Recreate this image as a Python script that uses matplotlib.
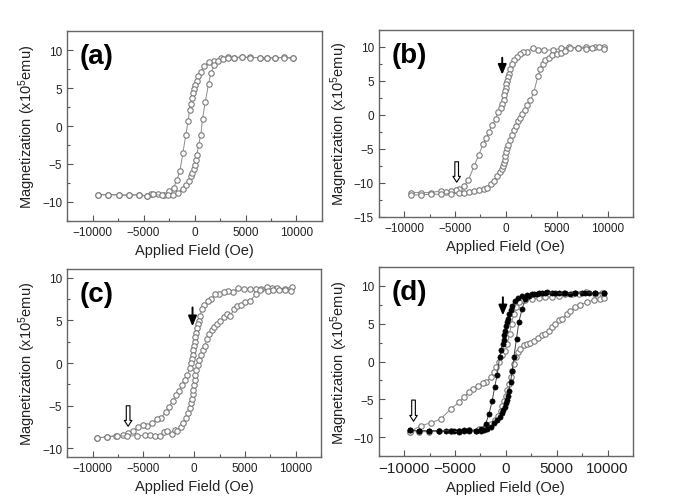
import matplotlib
matplotlib.use('Agg')
import matplotlib.pyplot as plt
from matplotlib.ticker import MultipleLocator

plt.rcParams['font.family'] = ['Liberation Sans', 'DejaVu Sans']
plt.rcParams['mathtext.fontset'] = 'custom'
plt.rcParams['mathtext.rm'] = 'Liberation Sans'
plt.rcParams['mathtext.it'] = 'Liberation Sans'

# ---- panel (a) ----
a_dn_h = [9673, 8791, 7909, 7157, 6405, 5458, 4641, 3889, 3235, 2582, 1928, 1438, 948, 621, 359, 196, 65,
          -33, -131, -261, -392, -490, -621, -850, -1144, -1438, -1732, -2059, -2484, -2974, -3627,
          -4281, -4706, -5490, -6471, -7451, -8464, -9444]
a_dn_m = [8.97, 9.05, 8.97, 8.97, 9.01, 9.05, 9.10, 9.01, 9.05, 8.97, 8.62, 8.44, 7.87, 7.12, 6.55, 5.89, 5.45,
          4.92, 4.35, 3.69, 2.90, 2.15, 0.70, -1.14, -3.56, -5.98, -7.08, -8.18, -8.62, -9.05, -8.97,
          -8.97, -9.27, -9.05, -9.14, -9.05, -9.05, -9.05]
a_up_h = [-9444, -8464, -7451, -6471, -5490, -4706, -4118, -3203, -2647, -2157, -1667, -1176, -817, -556,
          -359, -229, -98, 0, 98, 229, 392, 621, 784, 1046, 1373, 1601, 1928, 2255, 2745, 3235, 3889,
          4641, 5458, 6405, 7157, 7909, 8791, 9673]
a_up_m = [-9.05, -9.05, -9.10, -9.10, -9.05, -9.20, -9.00, -9.14, -9.05, -9.05, -8.84, -8.26, -7.74, -7.21,
          -6.64, -6.20, -5.63, -5.10, -4.44, -3.78, -2.55, -1.14, 0.97, 3.12, 5.54, 6.95, 8.00, 8.62, 8.88,
          8.97, 8.97, 9.05, 9.00, 9.01, 8.97, 9.00, 9.00, 8.90]

# ---- panel (b) ----
b_dn_h = [9608, 8791, 7876, 7091, 6242, 5425, 4608, 3791, 3137, 2647, 2092, 1667, 1438, 1046, 784, 556, 392,
          294, 196, 131, 33, -33, -98, -163, -229, -359, -523, -784, -1013, -1340, -1667, -1928, -2255,
          -2647, -3137, -3693, -4118, -4608, -4935, -5425, -5915, -6405, -7386, -8366, -9346]
b_dn_m = [9.98, 10.02, 10.02, 9.88, 9.98, 9.78, 9.54, 9.54, 9.54, 9.88, 9.30, 9.30, 8.91, 8.52, 8.04, 7.46,
          6.73, 6.00, 5.52, 5.04, 4.55, 3.97, 3.44, 2.86, 2.13, 1.65, 1.07, 0.44, -0.68, -1.50, -2.47, -3.44,
          -4.31, -5.86, -7.55, -9.59, -10.46, -10.85, -11.04, -11.19, -11.28, -11.19, -11.43, -11.43, -11.43]
b_up_h = [-9346, -8366, -7386, -6405, -5425, -4608, -4118, -3627, -3137, -2647, -2157, -1830, -1503, -1176,
          -850, -621, -425, -294, -196, -131, -65, 0, 98, 229, 392, 621, 784, 948, 1209, 1438, 1601, 1863,
          2092, 2418, 2745, 3170, 3399, 3660, 3889, 4216, 4543, 5033, 5425, 5850, 6340, 7091, 7876, 8464,
          9118, 9608]
b_up_m = [-11.77, -11.77, -11.67, -11.67, -11.57, -11.53, -11.43, -11.33, -11.19, -11.04, -10.94, -10.80,
          -10.22, -9.73, -9.01, -8.43, -7.94, -7.46, -7.07, -6.68, -6.10, -5.52, -4.94, -4.41, -3.68, -2.95,
          -2.23, -1.65, -0.92, -0.39, 0.10, 0.68, 1.40, 2.13, 3.34, 5.76, 6.73, 7.46, 8.04, 8.43, 8.81, 9.01,
          9.15, 9.39, 9.78, 9.88, 9.73, 9.88, 9.98, 9.64]

# ---- panel (c) ----
c_dn_h = [9636, 8910, 8184, 7656, 7161, 6600, 6105, 5445, 4884, 4290, 3795, 3300, 2904, 2475, 2046, 1650,
          1320, 990, 759, 561, 429, 330, 231, 165, 99, 33, -33, -99, -165, -231, -330, -462, -660, -924,
          -1221, -1485, -1815, -2112, -2475, -2805, -3300, -3696, -4125, -4620, -5016, -5544, -6006, -6501,
          -6996, -7656, -8580, -9570]
c_dn_m = [8.92, 8.69, 8.80, 8.73, 8.88, 8.69, 8.69, 8.69, 8.61, 8.80, 8.30, 8.42, 8.30, 8.11, 8.03, 7.45,
          7.26, 6.76, 6.29, 5.52, 4.94, 4.56, 4.05, 3.51, 3.01, 2.51, 1.97, 1.47, 0.97, 0.50, 0.00, -0.58,
          -1.35, -2.01, -2.59, -3.28, -3.75, -4.44, -5.10, -5.75, -6.45, -6.56, -7.03, -7.34, -7.22, -7.53,
          -7.99, -8.19, -8.46, -8.49, -8.65, -8.76]
c_up_h = [-9570, -8580, -7590, -6600, -5610, -4884, -4356, -3894, -3399, -2970, -2640, -2211, -1914, -1650,
          -1320, -1089, -825, -594, -429, -330, -231, -165, -99, -33, 33, 99, 198, 330, 495, 660, 825, 1056,
          1254, 1485, 1716, 1980, 2244, 2574, 2904, 3234, 3564, 3894, 4224, 4620, 5016, 5445, 6105, 6435,
          7260, 7755, 8316, 8910, 9570]
c_up_m = [-8.76, -8.65, -8.49, -8.57, -8.49, -8.46, -8.46, -8.49, -8.57, -8.07, -7.99, -8.26, -7.80, -7.99,
          -7.53, -7.03, -6.45, -5.87, -5.29, -4.71, -4.21, -3.67, -3.17, -2.59, -2.01, -1.43, -0.85, -0.27,
          0.31, 0.89, 1.47, 2.05, 2.82, 3.40, 3.90, 4.17, 4.56, 4.94, 5.33, 5.71, 5.52, 6.29, 6.68, 6.76,
          7.14, 7.26, 8.03, 8.53, 8.42, 8.53, 8.53, 8.53, 8.42]

# ---- panel (d): filled loop ----
d1_dn_h = [9608, 8791, 8137, 7484, 6830, 6340, 5686, 5196, 4543, 4052, 3562, 3072, 2582, 2092, 1601, 1209,
           882, 621, 458, 294, 196, 98, 0, -98, -163, -229, -327, -458, -621, -850, -1111, -1340, -1667,
           -1993, -2484, -2974, -3627, -4118, -4608, -5098, -5915, -6569, -7549, -8529, -9444]
d1_dn_m = [9.07, 9.07, 9.07, 9.07, 9.07, 8.98, 9.07, 9.07, 9.07, 9.16, 9.07, 8.98, 8.89, 8.76, 8.63, 8.45,
           8.01, 7.30, 6.77, 6.24, 5.66, 5.22, 4.65, 4.03, 3.45, 2.88, 2.26, 1.46, 0.58, -1.73, -3.41, -5.18,
           -6.95, -8.27, -8.94, -9.16, -9.16, -9.16, -9.16, -9.25, -9.25, -9.16, -9.16, -9.16, -9.07]
d1_up_h = [-9444, -8529, -7549, -6569, -5425, -4608, -4118, -3627, -2974, -2484, -2157, -1830, -1503, -1176,
           -850, -621, -425, -261, -131, -33, 65, 163, 294, 458, 621, 784, 1046, 1274, 1601, 1928, 2255,
           2745, 3235, 3889, 4869, 5850, 6830, 7811, 8791, 9608]
d1_up_m = [-9.07, -9.16, -9.16, -9.16, -9.16, -9.29, -9.07, -9.07, -9.16, -9.16, -9.07, -8.94, -8.63, -8.19,
           -7.74, -7.30, -6.86, -6.42, -5.97, -5.53, -5.09, -4.51, -3.85, -2.74, -1.19, 0.58, 3.01, 5.22,
           6.99, 8.32, 8.63, 8.89, 9.07, 9.07, 9.07, 9.00, 9.07, 9.10, 9.07, 9.07]

# ---- panel (d): open loop ----
d2_dn_h = [9444, 8791, 7876, 7157, 6503, 5850, 5196, 4543, 3889, 3235, 2582, 1928, 1601, 1274, 1013, 784,
           556, 359, 131, -98, -359, -686, -948, -1176, -1503, -1928, -2255, -2712, -3203, -3627, -4118,
           -4608, -5425, -6405, -7386, -8366, -9444]
d2_dn_m = [9.07, 8.98, 9.20, 8.98, 8.98, 8.89, 8.63, 8.54, 8.54, 8.45, 8.27, 8.19, 8.10, 7.88, 7.21, 6.33,
           5.00, 3.67, 2.35, 1.37, 0.80, -0.09, -0.75, -1.42, -2.08, -2.74, -2.88, -3.19, -3.63, -4.07,
           -4.65, -5.40, -6.28, -7.61, -8.10, -8.50, -9.29]
d2_up_h = [-9444, -8529, -7549, -6569, -5425, -4608, -3627, -2647, -1993, -1503, -1111, -784, -523, -359,
           -196, -33, 131, 294, 458, 621, 784, 948, 1209, 1438, 1765, 2092, 2418, 2745, 3170, 3562, 3889,
           4216, 4543, 4869, 5261, 5523, 6013, 6340, 6830, 7320, 7974, 8627, 9281, 9608]
d2_up_m = [-9.29, -9.29, -9.29, -9.25, -9.16, -9.16, -9.07, -8.94, -8.63, -8.27, -7.74, -7.17, -6.50, -5.84,
           -5.18, -4.51, -3.76, -2.96, -2.08, -1.19, -0.31, 0.58, 1.24, 1.68, 2.12, 2.35, 2.43, 2.70, 3.14,
           3.45, 3.67, 4.03, 4.56, 4.91, 5.44, 5.66, 6.33, 6.68, 7.21, 7.43, 7.88, 8.10, 8.23, 8.45]

labels = ['(a)', '(b)', '(c)', '(d)']
ylims = [(-12.5, 12.5), (-15, 12.5), (-11, 11), (-12.5, 12.5)]
positions = [[0.098, 0.558, 0.372, 0.378], [0.553, 0.566, 0.371, 0.3725],
             [0.098, 0.0876, 0.371, 0.3745], [0.553, 0.0896, 0.371, 0.3765]]

gray = '#8a8a8a'
open_style = dict(color=gray, lw=0.7, marker='o', ms=3.9, mfc='white', mec='#7a7a7a', mew=0.8)
filled_style = dict(color='#444444', lw=0.7, marker='o', ms=3.7, mfc='black', mec='black', mew=0.5)

fig = plt.figure(figsize=(6.85, 5.02), dpi=100)
axes = [fig.add_axes(p) for p in positions]

axes[0].plot(a_dn_h, a_dn_m, **open_style)
axes[0].plot(a_up_h, a_up_m, **open_style)
axes[1].plot(b_dn_h, b_dn_m, **open_style)
axes[1].plot(b_up_h, b_up_m, **open_style)
axes[2].plot(c_dn_h, c_dn_m, **open_style)
axes[2].plot(c_up_h, c_up_m, **open_style)
axes[3].plot(d2_dn_h, d2_dn_m, **open_style)
axes[3].plot(d2_up_h, d2_up_m, **open_style)
axes[3].plot(d1_dn_h, d1_dn_m, **filled_style)
axes[3].plot(d1_up_h, d1_up_m, **filled_style)

for i, ax in enumerate(axes):
    ax.set_xlim(-12500, 12500)
    ax.set_ylim(*ylims[i])
    ax.xaxis.set_major_locator(MultipleLocator(5000))
    ax.xaxis.set_minor_locator(MultipleLocator(2500))
    ax.yaxis.set_major_locator(MultipleLocator(5))
    ax.yaxis.set_minor_locator(MultipleLocator(2.5))
    ax.tick_params(which='both', direction='in', top=False, right=False, colors='#555555',
                   labelcolor='#222222', labelsize=8.5, width=0.8)
    ax.tick_params(which='major', length=4)
    ax.tick_params(which='minor', length=2.5)
    for s in ax.spines.values():
        s.set_color('#666666')
        s.set_linewidth(1.0)
    ax.set_xlabel('Applied Field (Oe)', fontsize=10.5, color='#222222', labelpad=4)
    ax.set_ylabel(r'Magnetization (x10$^5$emu)', fontsize=10.5, color='#222222', labelpad=3)
    ax.text(0.05, 0.935, labels[i], transform=ax.transAxes, fontsize=20, fontweight='bold',
            va='top', ha='left')

axes[3].tick_params(axis='x', labelsize=11)

# arrows: filled (coercive kink) and hollow (minor loop)
black_arrow = dict(arrowstyle='-|>,head_width=0.25,head_length=0.6', color='black', lw=1.4,
                   shrinkA=0, shrinkB=0, mutation_scale=10)
hollow_arrow = dict(arrowstyle='simple,head_width=0.45,head_length=0.35,tail_width=0.22',
                    fc='white', ec='black', lw=0.8, shrinkA=0, shrinkB=0, mutation_scale=12)
axes[1].annotate('', xy=(-360, 5.9), xytext=(-360, 8.4), arrowprops=black_arrow)
axes[1].annotate('', xy=(-4840, -9.9), xytext=(-4840, -6.9), arrowprops=hollow_arrow)
axes[2].annotate('', xy=(-165, 4.3), xytext=(-165, 6.5), arrowprops=black_arrow)
axes[2].annotate('', xy=(-6500, -7.4), xytext=(-6500, -5.0), arrowprops=hollow_arrow)
axes[3].annotate('', xy=(-294, 6.1), xytext=(-294, 8.5), arrowprops=black_arrow)
axes[3].annotate('', xy=(-9085, -7.9), xytext=(-9085, -5.1), arrowprops=hollow_arrow)

fig.savefig('out.png', dpi=100)
